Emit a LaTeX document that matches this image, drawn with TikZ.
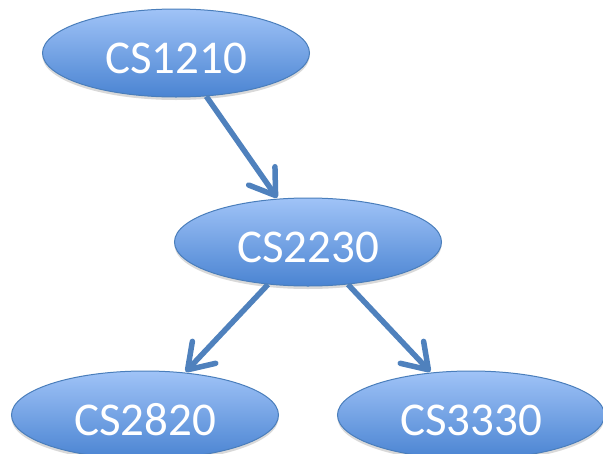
\documentclass[tikz,border=0pt]{standalone}
\usepackage{fontspec}
\setmainfont{Carlito}
\usetikzlibrary{shapes.geometric,arrows.meta,shadows}
\definecolor{ctop}{HTML}{A0C3F7}
\definecolor{cbot}{HTML}{4A84D2}
\definecolor{cedge}{HTML}{4A7EBB}
\definecolor{carrow}{HTML}{4F81BD}
\tikzset{
  course/.style={ellipse, draw=cedge, line width=1pt, top color=ctop, bottom color=cbot,
    minimum width=267pt, minimum height=88pt, inner sep=0pt,
    text=white, font=\fontsize{47}{47}\selectfont, text height=41pt, text depth=0pt,
    drop shadow={shadow xshift=0pt, shadow yshift=-3pt, opacity=0.15, fill=black}},
  prereq/.style={draw=carrow, line width=5.5pt,
    -{Straight Barb[length=24pt, width=32pt, round]},
    shorten >=1pt}
}
\begin{document}
\begin{tikzpicture}[x=1pt,y=-1pt]
\useasboundingbox (0,0) rectangle (603,453);
\node[course] (a) at (176,53) {CS1210};
\node[course] (b) at (308,242) {CS2230};
\node[course] (c) at (145,415) {CS2820};
\node[course] (d) at (471,415) {CS3330};
\draw[prereq] (a) -- (b);
\draw[prereq] (b) -- (c);
\draw[prereq] (b) -- (d);
\end{tikzpicture}
\end{document}
